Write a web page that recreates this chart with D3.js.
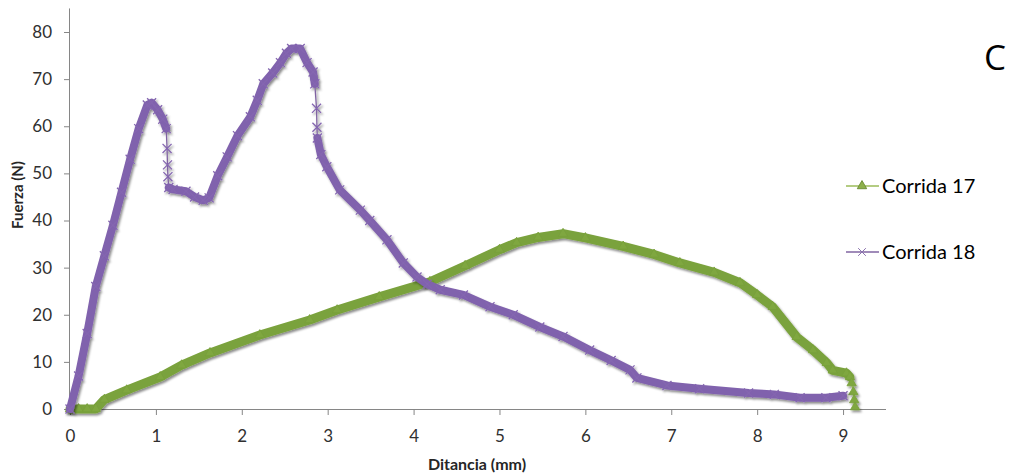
<!DOCTYPE html>
<html>
<head>
<meta charset="utf-8">
<script src="https://cdn.jsdelivr.net/npm/d3@7"></script>
<style>
  html, body { margin: 0; padding: 0; background: #fff; }
  svg { display: block; font-family: Lato, "Open Sans", sans-serif; }
</style>
</head>
<body>
<svg id="chart" width="1009" height="474"></svg>
<script>
// Corrida 17 – force (N) against displacement (mm)
const dist17 = [0, 0.1, 0.2, 0.3, 0.4, 0.66, 1.05, 1.3, 1.63, 2.21, 2.79, 3.11, 3.6, 4.19, 4.6, 5.0, 5.2, 5.45, 5.74, 6.0, 6.44, 6.8, 7.1, 7.5, 7.8, 8.0, 8.18, 8.46, 8.65, 8.81, 8.88, 9.04, 9.08, 9.1, 9.12, 9.13, 9.14];
const force17 = [0, 0, 0, 0, 2, 4, 6.8, 9.3, 11.9, 15.7, 18.9, 21, 23.8, 27, 30.4, 33.8, 35.3, 36.4, 37.2, 36.3, 34.5, 32.8, 31, 29, 26.8, 24.2, 21.7, 15.3, 12.5, 9.8, 8.2, 7.6, 6.8, 5.5, 3.6, 1.9, 0.4];

// Corrida 18
const dist18 = [0, 0.1, 0.2, 0.3, 0.4, 0.5, 0.6, 0.7, 0.8, 0.9, 0.95, 1.02, 1.08, 1.12, 1.13, 1.135, 1.14, 1.15, 1.2, 1.35, 1.45, 1.55, 1.62, 1.72, 1.83, 1.95, 2.1, 2.18, 2.25, 2.36, 2.45, 2.52, 2.58, 2.68, 2.76, 2.83, 2.85, 2.87, 2.875, 2.88, 2.92, 2.99, 3.14, 3.38, 3.49, 3.69, 3.88, 4.04, 4.16, 4.31, 4.58, 4.89, 5.16, 5.47, 5.74, 6.05, 6.3, 6.52, 6.6, 6.95, 7.33, 7.9, 8.2, 8.5, 8.8, 9.0];
const force18 = [0, 7, 16, 26, 32.5, 39, 46, 53, 59.5, 64.5, 65, 63.5, 61.5, 59.5, 55.3, 51.8, 49.3, 47, 46.6, 46.2, 45, 44.3, 44.8, 49.5, 53.5, 58, 62, 65.5, 69, 71.3, 73.5, 75.5, 76.5, 76.5, 73.5, 71.5, 69, 63.8, 59.8, 57.5, 54, 51.4, 46.5, 42.2, 40, 35.9, 31, 28, 26.5, 25.3, 24.2, 21.7, 20, 17.4, 15.4, 12.5, 10.3, 8.3, 6.6, 5, 4.3, 3.4, 3.1, 2.4, 2.4, 2.8];

// stretches where the recorder sampled sparsely (sudden drops)
const drops17 = [[9.08, 9.14]];
const drops18 = [[1.12, 1.15], [2.85, 2.88]];

const seriesNames = ["Corrida 17", "Corrida 18"];
const xTicks = [0, 1, 2, 3, 4, 5, 6, 7, 8, 9];
const yTicks = [0, 10, 20, 30, 40, 50, 60, 70, 80];

const svg = d3.select("#chart");

const x = d3.scaleLinear().domain([0, 9.5]).range([70, 886]);
const y = d3.scaleLinear().domain([0, 80]).range([409, 32]);
const yTop = y(85);

// soft shadow used by the series
const defs = svg.append("defs");
const f = defs.append("filter").attr("id", "shadow")
  .attr("x", "-5%").attr("y", "-5%").attr("width", "110%").attr("height", "115%");
f.append("feDropShadow").attr("dx", 1.5).attr("dy", 2).attr("stdDeviation", 1.2)
  .attr("flood-color", "#000").attr("flood-opacity", 0.45);

// axes
const axisColor = "#868686";
const gx = svg.append("g").attr("transform", `translate(0,${y(0)})`)
  .call(d3.axisBottom(x).tickValues(xTicks).tickFormat(d3.format("d")).tickSize(6).tickSizeOuter(0).tickPadding(15));
gx.select(".domain").attr("stroke", axisColor).attr("d", `M${x(0)},0.5H${x(9.5)}`);
gx.selectAll(".tick line").attr("stroke", axisColor);
gx.selectAll(".tick text").attr("font-size", 17).attr("fill", "#303030")
  .attr("font-family", "Lato, sans-serif");

const gy = svg.append("g").attr("transform", `translate(${x(0)},0)`)
  .call(d3.axisLeft(y).tickValues(yTicks).tickSize(6).tickSizeOuter(0).tickPadding(12));
gy.select(".domain").attr("stroke", axisColor).attr("d", `M-0.5,${y(0)}V${yTop}`);
gy.selectAll(".tick line").attr("stroke", axisColor);
gy.selectAll(".tick text").attr("font-size", 17).attr("fill", "#303030")
  .attr("font-family", "Lato, sans-serif");

// axis titles
svg.append("text").attr("x", 477).attr("y", 470).attr("text-anchor", "middle")
  .attr("font-size", 16).attr("font-weight", "bold").attr("fill", "#262626")
  .text("Ditancia (mm)");
svg.append("text").attr("transform", "translate(23,195) rotate(-90)")
  .attr("text-anchor", "middle").attr("font-size", 15).attr("font-weight", "bold").attr("fill", "#262626")
  .text("Fuerza (N)");

// panel letter
svg.append("text").attr("x", 995).attr("y", 70).attr("text-anchor", "middle")
  .attr("font-size", 35).attr("font-family", "'Open Sans', sans-serif").attr("fill", "#000").text("C");

const tri = d3.symbol().type(d3.symbolTriangle).size(38);
const cross = d3.symbol().type(d3.symbolX).size(55);

function inDrop(drops, a, b) {
  return drops.some(([lo, hi]) => a >= lo && b <= hi);
}

// split a series into dense stretches (drawn as a thick band of markers)
function runs(pts, drops) {
  const out = [];
  let cur = [pts[0]];
  for (let i = 1; i < pts.length; i++) {
    if (inDrop(drops, pts[i - 1][0], pts[i][0])) {
      if (cur.length > 1) out.push(cur);
      cur = [pts[i]];
    } else {
      cur.push(pts[i]);
    }
  }
  if (cur.length > 1) out.push(cur);
  return out;
}

const line = d3.line().x(d => x(d[0])).y(d => y(d[1]));

function drawSeries(xs, ys, drops, opts) {
  const pts = xs.map((d, i) => [d, ys[i]]);
  const g = svg.append("g").attr("filter", "url(#shadow)");
  g.append("path").attr("d", line(pts)).attr("fill", "none")
    .attr("stroke", opts.thin).attr("stroke-width", 1.3);
  runs(pts, drops).forEach(r => {
    g.append("path").attr("d", line(r)).attr("fill", "none")
      .attr("stroke", opts.band).attr("stroke-width", opts.width)
      .attr("stroke-linejoin", "round").attr("stroke-linecap", "round");
  });
  g.selectAll("path.m").data(pts).enter().append("path").attr("class", "m")
    .attr("transform", d => `translate(${x(d[0])},${y(d[1])})`)
    .attr("d", opts.symbol)
    .attr("fill", opts.fill).attr("stroke", opts.stroke).attr("stroke-width", opts.sw);
}

const green = { thin: "#9bbb59", band: "#7aa23c", width: 9, symbol: tri, fill: "#7fa740", stroke: "#77a03a", sw: 0.8 };
const purple = { thin: "#8064a2", band: "#8062ad", width: 8, symbol: cross, fill: "none", stroke: "#8466b0", sw: 1.3 };

drawSeries(dist17, force17, drops17, green);
drawSeries(dist18, force18, drops18, purple);

// legend
const legendMarks = [
  { name: seriesNames[0], y: 186, s: green, sym: tri, fill: "#8db04a", stroke: "#71913a" },
  { name: seriesNames[1], y: 252, s: purple, sym: d3.symbol().type(d3.symbolX).size(40), fill: "none", stroke: "#8a72ae" }
];
legendMarks.forEach(l => {
  svg.append("line").attr("x1", 846).attr("x2", 879).attr("y1", l.y).attr("y2", l.y)
    .attr("stroke", l.s.thin).attr("stroke-width", 1.3);
  svg.append("path").attr("transform", `translate(862,${l.y})`).attr("d", l.sym)
    .attr("fill", l.fill).attr("stroke", l.stroke).attr("stroke-width", 1);
  svg.append("text").attr("x", 882).attr("y", l.y + 7).attr("font-size", 20).attr("fill", "#000")
    .text(l.name);
});
</script>
</body>
</html>
